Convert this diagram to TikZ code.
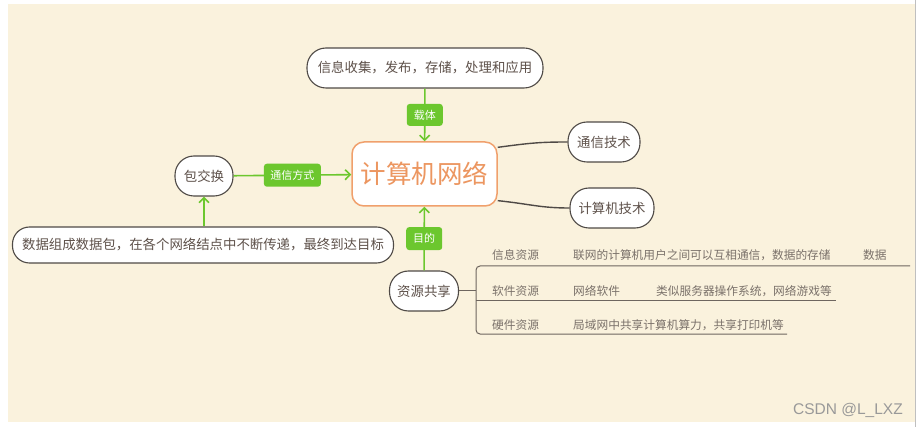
\documentclass[tikz,border=0pt]{standalone}
\usepackage{fontspec}
\setmainfont{Noto Sans CJK SC}
\newfontfamily\markfont{Liberation Sans}
\usepackage{tikz}
\usetikzlibrary{
	arrows.meta,
	positioning,
	calc
}
\usepackage{xcolor}
\definecolor{paper}{HTML}{FAF2DD}
\definecolor{ink}{HTML}{5E514A}
\definecolor{edge}{HTML}{4F4A46}
\definecolor{leaf}{HTML}{6CC72E}
\definecolor{peach}{HTML}{F0A06C}
\definecolor{peachtext}{HTML}{EC9660}
\definecolor{rowink}{HTML}{7A716A}
\definecolor{rowline}{HTML}{6E665F}

\begin{document}
\begin{tikzpicture}[x=1pt,y=-1pt,
	topic/.style={draw=edge,fill=white,line width=1.1pt,rounded corners=19pt,
		minimum height=40pt,inner sep=0pt,text=ink,font=\fontsize{13.4}{15}\selectfont},
	tag/.style={fill=leaf,rounded corners=3pt,text=white,inner sep=0pt,
		minimum height=23pt,font=\fontsize{11}{12}\selectfont},
	flow/.style={draw=leaf,line width=1.6pt,-{Straight Barb[length=5pt,width=10pt]}},
	link/.style={draw=edge,line width=1.4pt},
	rowtext/.style={anchor=base west,inner sep=0pt,text=rowink,font=\fontsize{11.7}{13}\selectfont}]
		
		\useasboundingbox (0,0) rectangle (920,427);
		\fill[paper] (8,4) rectangle (915,422);
		\draw[black!25,line width=1.5pt] (915.5,0) -- (915.5,427);
		
		% central topic
		\node[draw=peach,fill=white,line width=1.5pt,rounded corners=12pt,
			minimum width=145pt,minimum height=64pt,inner sep=0pt,text=peachtext,
			font=\fontsize{25.5}{28}\selectfont] (net) at (424.5,174) {计算机网络};
		
		\node[topic,minimum width=236pt] (info) at (425,68) {信息收集，发布，存储，处理和应用};
		\node[topic,minimum width=72pt] (comm) at (604,142) {通信技术};
		\node[topic,minimum width=84pt] (comp) at (612,208) {计算机技术};
		\node[topic,minimum width=58pt] (packet) at (204,176) {包交换};
		\node[topic,minimum width=381pt,minimum height=36pt,rounded corners=17pt] (route) at (203,245)
			{数据组成数据包，在各个网络结点中不断传递，最终到达目标};
		\node[topic,minimum width=69pt] (share) at (424,291) {资源共享};
		
		% green arrows with tags
		\draw[flow] (info) -- node[tag,minimum width=36pt,minimum height=22pt] {载体} (net);
		\draw[flow] (packet) -- node[tag,minimum width=57pt] {通信方式} (net);
		\draw[flow] (route.north -| packet) -- (packet);
		\draw[flow] (share) -- node[tag,minimum width=36pt] {目的} (net);
		
		% dark links
		\draw[link] (net.20) .. controls (530,143) and (540,142) .. (comm.west);
		\draw[link] (net.-20) .. controls (530,204) and (540,208) .. (comp.west);
		
		% resource rows
		\coordinate (fork) at (476,291);
		\coordinate (rowA) at (910,266);
		\coordinate (rowB) at (836,301);
		\coordinate (rowC) at (787,334);
		\draw[rowline,line width=1pt] (share.east) -- (fork);
		\draw[rowline,line width=1pt,rounded corners=4pt] (rowA) -- (fork |- rowA) -- (fork |- rowC) -- (rowC);
		\draw[rowline,line width=1pt] (fork |- rowB) -- (rowB);
		
		\node[rowtext] (infoRes) at (492,260) {信息资源};
		\node[rowtext] (infoDesc) at (573,260) {联网的计算机用户之间可以互相通信，数据的存储};
		\node[rowtext] (infoData) at (863,260) {数据};
		\node[rowtext] (softRes) at (492,295) {软件资源};
		\node[rowtext] (softDesc) at (573,295) {网络软件};
		\node[rowtext] (softEx) at (656,295) {类似服务器操作系统，网络游戏等};
		\node[rowtext] (hardRes) at (492,330) {硬件资源};
		\node[rowtext] (hardDesc) at (573,330) {局域网中共享计算机算力，共享打印机等};
		
		% watermark
		\node[anchor=base east,inner sep=0pt,text=black!40,font=\markfont\fontsize{15.5}{17}\selectfont]
			(mark) at (903,414) {CSDN @L\_LXZ};
		
	\end{tikzpicture}
\end{document}
